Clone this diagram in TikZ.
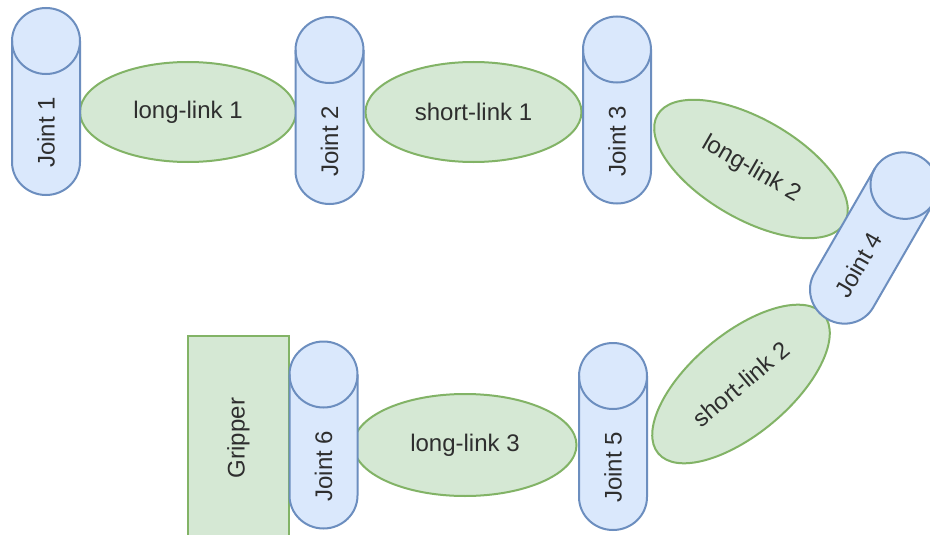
\documentclass[tikz,border=0pt]{standalone}
\usepackage{fontspec}
\setmainfont{Liberation Sans}
\usetikzlibrary{shapes.geometric}
\definecolor{jfill}{HTML}{DAE8FC}
\definecolor{jdraw}{HTML}{6C8EBF}
\definecolor{lfill}{HTML}{D5E8D4}
\definecolor{ldraw}{HTML}{82B366}
\definecolor{txt}{HTML}{2E2E2E}
\tikzset{
  jointline/.style={draw=jdraw, fill=jfill, line width=2pt},
  lbl/.style={text=txt, font=\fontsize{24}{28}\selectfont, inner sep=0pt},
  link/.style={ellipse, draw=ldraw, fill=lfill, line width=2pt, text=txt,
    font=\fontsize{24}{28}\selectfont, inner sep=0pt, minimum width=216, minimum height=100},
  gripbox/.style={rectangle, draw=ldraw, fill=lfill, line width=2pt, text=txt,
    font=\fontsize{24}{28}\selectfont, inner sep=0pt},
}
\newcommand{\jointcyl}[5]{%
  \begin{scope}[shift={(#2,#3)}, rotate=#4]
    \filldraw[jointline] (-34,60.5) -- (-34,-60.5)
      arc[start angle=180, end angle=360, x radius=34, y radius=33] -- (34,60.5)
      arc[start angle=0, end angle=180, x radius=34, y radius=33] -- cycle;
    \draw[jointline, fill=none] (-34,60.5)
      arc[start angle=180, end angle=360, x radius=34, y radius=33];
    \node[lbl, rotate=90+#4] (#1) at (0,-31) {#5};
  \end{scope}}
\begin{document}
\begin{tikzpicture}[x=1pt, y=1pt]
\useasboundingbox (0,0) rectangle (930,-535);
\clip (0,0) rectangle (930,-535);
\fill[white] (0,0) rectangle (930,-535);
% links
\node[link] (l1) at (188,-112) {long-link 1};
\node[link] (s1) at (473.5,-112) {short-link 1};
\node[link, rotate=-30] (l2) at (751,-169) {long-link 2};
\node[link, rotate=40] (s2) at (741,-384) {short-link 2};
\node[link, minimum width=223, minimum height=102] (l3) at (465,-445) {long-link 3};
% gripper
\node[gripbox, rotate=90, minimum width=204, minimum height=101] (grip) at (238.5,-438) {Gripper};
% joints
\jointcyl{j1}{46}{-101.5}{0}{Joint 1}
\jointcyl{j2}{329.5}{-110.5}{0}{Joint 2}
\jointcyl{j3}{617}{-110}{0}{Joint 3}
\jointcyl{j4}{874}{-238}{-30}{Joint 4}
\jointcyl{j5}{613}{-436.5}{0}{Joint 5}
\jointcyl{j6}{323.5}{-435}{0}{Joint 6}
\end{tikzpicture}
\end{document}
